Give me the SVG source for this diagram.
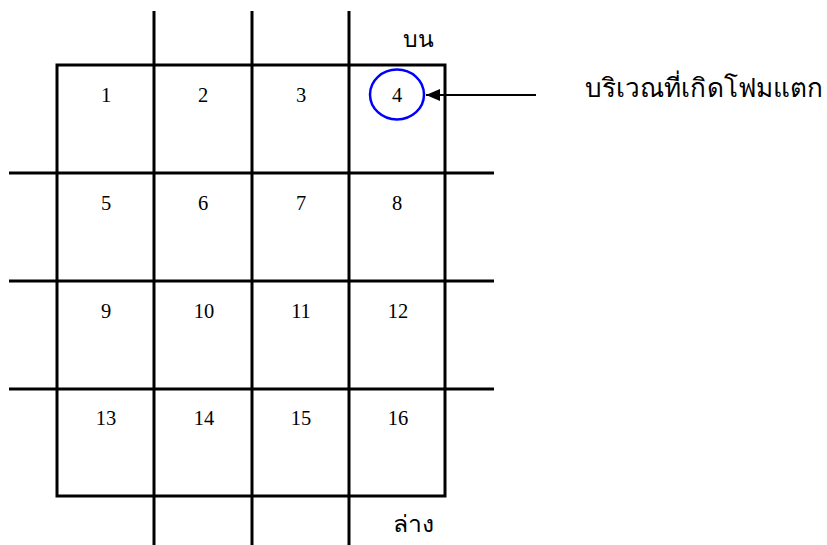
<svg xmlns="http://www.w3.org/2000/svg" width="827" height="545" viewBox="0 0 827 545">
<style>
.g{stroke:#000;stroke-width:3;fill:none}
.n{font-family:"Liberation Serif","Times New Roman",serif;font-size:20.5px;fill:#000;text-anchor:middle}
.th{font-family:"Noto Sans","DejaVu Sans",sans-serif;fill:#000}
</style>
<defs>
<marker id="ah" markerWidth="14" markerHeight="12" refX="14" refY="6" orient="auto" markerUnits="userSpaceOnUse">
<path d="M0,0 L14,6 L0,12 Z" fill="#000"/>
</marker>
</defs>
<rect width="827" height="545" fill="#fff"/>
<g id="grid">
<rect class="g" x="57" y="65" width="388" height="431"/>
<line class="g" x1="154" y1="11" x2="154" y2="545"/>
<line class="g" x1="252" y1="11" x2="252" y2="545"/>
<line class="g" x1="349" y1="11" x2="349" y2="545"/>
<line class="g" x1="9" y1="173" x2="494" y2="173"/>
<line class="g" x1="9" y1="281" x2="494" y2="281"/>
<line class="g" x1="9" y1="389" x2="494" y2="389"/>
</g>
<g id="cells">
<text class="n" x="106" y="102">1</text>
<text class="n" x="203" y="102">2</text>
<text class="n" x="301" y="102">3</text>
<text class="n" x="397" y="102">4</text>
<text class="n" x="106" y="210">5</text>
<text class="n" x="203" y="210">6</text>
<text class="n" x="301" y="210">7</text>
<text class="n" x="397" y="210">8</text>
<text class="n" x="106" y="318">9</text>
<text class="n" x="204" y="318">10</text>
<text class="n" x="301" y="318">11</text>
<text class="n" x="398" y="318">12</text>
<text class="n" x="106" y="425">13</text>
<text class="n" x="204" y="425">14</text>
<text class="n" x="301" y="425">15</text>
<text class="n" x="398" y="425">16</text>
</g>
<g id="highlight">
<ellipse cx="397" cy="94.5" rx="27" ry="25" fill="none" stroke="#0000ff" stroke-width="2.5"/>
</g>
<g id="labels">
<text class="th" x="418" y="47" font-size="23" text-anchor="middle" textLength="31" lengthAdjust="spacingAndGlyphs">บน</text>
<text class="th" x="413" y="532" font-size="23" text-anchor="middle" textLength="41" lengthAdjust="spacingAndGlyphs">ล่าง</text>
<text id="callout" class="th" x="585" y="97" font-size="26" textLength="238" lengthAdjust="spacingAndGlyphs">บริเวณที่เกิดโฟมแตก</text>
</g>
<g id="connectors">
<line x1="536" y1="95" x2="426" y2="95" stroke="#000" stroke-width="2" marker-end="url(#ah)"/>
</g>
</svg>
